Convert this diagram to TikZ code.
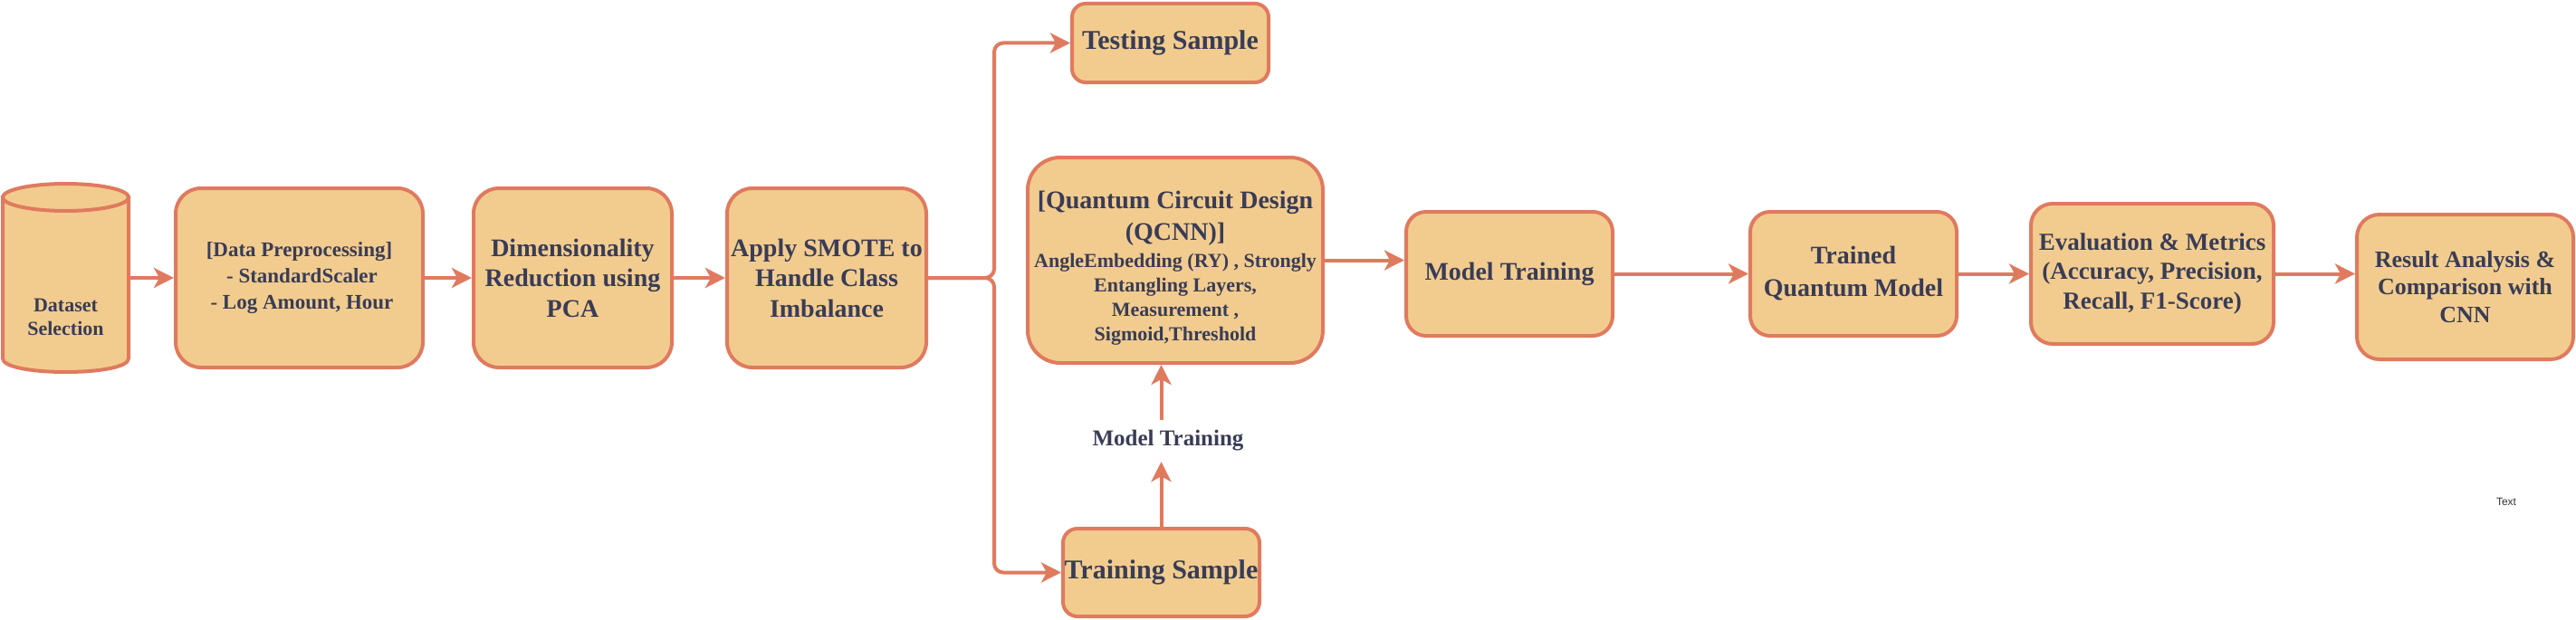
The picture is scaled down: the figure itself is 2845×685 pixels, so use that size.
\documentclass[tikz,border=0pt]{standalone}
\usepackage{fontspec}
\setmainfont{Liberation Serif}
\newfontfamily\labelsans{Liberation Sans}
\usetikzlibrary{arrows.meta}
\definecolor{boxfill}{HTML}{F2CC8F}
\definecolor{boxline}{HTML}{E07A5F}
\definecolor{boxtext}{HTML}{393C56}
\definecolor{textgray}{HTML}{333333}
\newcommand{\qbig}{\fontsize{28}{35}\selectfont}
\begin{document}
\begin{tikzpicture}[x=1pt,y=-1pt,
  stepbox/.style={draw=boxline, fill=boxfill, line width=4pt, text=boxtext, align=center, inner sep=0pt},
  arr/.style={draw=boxline, line width=4pt, -{Stealth[length=22pt,width=22pt,inset=6pt]}},
  fA/.style={font=\bfseries\fontsize{28}{33.5}\selectfont},
]
\fill[white] (0,0) rectangle (2845,685);
\useasboundingbox (0,0) rectangle (2845,685);

% cylinder
\node[minimum width=139pt, minimum height=208pt, inner sep=0pt] (cyl) at (72.5,307) {};
\draw[draw=boxline, fill=boxfill, line width=4pt] (3,218) -- (3,396) .. controls (3,416) and (142,416) .. (142,396) -- (142,218) -- cycle;
\draw[draw=boxline, fill=boxfill, line width=4pt] (72.5,218) ellipse [x radius=69.5pt, y radius=15pt];
\node[text=boxtext, align=center, font=\bfseries\fontsize{22}{26}\selectfont] (cyltext) at (72.5,350) {Dataset\\Selection};

\node[stepbox, minimum width=273pt, minimum height=198pt, rounded corners=28pt, font=\bfseries\fontsize{23}{29}\selectfont] (prep) at (330.5,307) {[Data Preprocessing]\\\hspace*{6pt}- StandardScaler\\\hspace*{6pt}- Log Amount, Hour};
\node[stepbox, fA, minimum width=219pt, minimum height=198pt, rounded corners=28pt] (pca) at (632.5,307) {Dimensionality\\Reduction using\\PCA};
\node[stepbox, fA, minimum width=220pt, minimum height=198pt, rounded corners=28pt] (smote) at (913,307) {Apply SMOTE to\\Handle Class\\Imbalance};

\node[stepbox, font=\bfseries\fontsize{30}{36}\selectfont, minimum width=217pt, minimum height=87pt, rounded corners=15pt] (test) at (1292.5,47.5) {Testing Sample};
\node[stepbox, minimum width=326pt, minimum height=227pt, rounded corners=36pt] (qcnn) at (1298,287.5) {};
\node[text=boxtext, align=center, inner sep=0pt, font=\bfseries\fontsize{22}{27}\selectfont] (qcnntext) at (1298,296) {\qbig [Quantum Circuit Design\\[8pt]\qbig (QCNN)]\\[3pt]AngleEmbedding (RY) , Strongly\\Entangling Layers,\\Measurement ,\\Sigmoid,Threshold};
\node[stepbox, font=\bfseries\fontsize{30}{36}\selectfont, minimum width=217pt, minimum height=97pt, rounded corners=16pt] (train) at (1282.5,632.5) {Training Sample};

\node[text=boxtext, font=\bfseries\fontsize{25}{30}\selectfont, inner sep=0pt, minimum height=46pt] (lab) at (1290,487) {Model Training};

\node[stepbox, fA, minimum width=228pt, minimum height=137pt, rounded corners=22pt] (mt) at (1667,302.5) {Model Training};
\node[stepbox, font=\bfseries\fontsize{28}{36}\selectfont, minimum width=228pt, minimum height=137pt, rounded corners=22pt] (tqm) at (2047,302.5) {Trained\\Quantum Model};
\node[stepbox, font=\bfseries\fontsize{27}{32.5}\selectfont, minimum width=268pt, minimum height=155pt, rounded corners=24pt] (eval) at (2377,302.5) {Evaluation \& Metrics\\(Accuracy, Precision,\\Recall, F1-Score)};
\node[stepbox, font=\bfseries\fontsize{26}{30.5}\selectfont, minimum width=239pt, minimum height=160pt, rounded corners=25pt] (res) at (2722.5,317) {Result Analysis \&\\Comparison with\\CNN};

\node[text=textgray, font=\labelsans\fontsize{12}{14}\selectfont] (txt) at (2768,554) {Text};

% connectors
\draw[arr] (cyl.east) -- (prep.west);
\draw[arr] (prep.east) -- (pca.west);
\draw[arr] (pca.east) -- (smote.west);
\coordinate (br) at (1098,307);
\draw[arr, rounded corners=10pt] (smote.east) -- (br) |- (test.west);
\draw[arr, rounded corners=10pt] (smote.east) -- (br) |- (train.west);
\draw[arr] (train.north) -- (train.north |- lab.south);
\draw[arr] (train.north |- lab.north) -- (train.north |- qcnn.south);
\draw[arr] (qcnn.east) -- (qcnn.east -| mt.west);
\draw[arr] (mt.east) -- (tqm.west);
\draw[arr] (tqm.east) -- (eval.west);
\draw[arr] (eval.east) -- (eval.east -| res.west);
\end{tikzpicture}
\end{document}
